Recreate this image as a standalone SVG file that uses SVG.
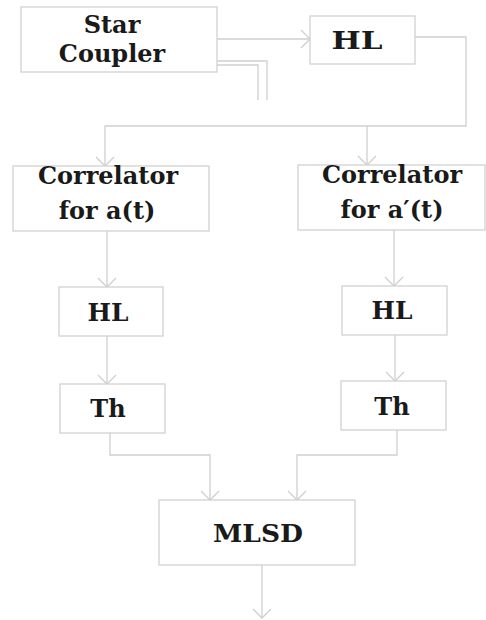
<svg xmlns="http://www.w3.org/2000/svg" width="486" height="620" viewBox="0 0 486 620">
<style>
.box{fill:#fff;stroke:#d2d2d2;stroke-width:1.3}
.t{font-family:"DejaVu Serif","Liberation Serif",serif;font-weight:bold;font-size:24px;fill:#1a1a1a;text-anchor:middle}
.c{fill:none;stroke:#cfcfcf;stroke-width:1.3}
</style>
<defs>
<marker id="a" markerUnits="userSpaceOnUse" markerWidth="20" markerHeight="20" refX="10" refY="9" orient="auto" overflow="visible">
<path d="M1,0 L10,9 L1,18" fill="none" stroke="#cfcfcf" stroke-width="1.3"/>
</marker>
</defs>
<rect width="486" height="620" fill="#fff"/>
<g id="connectors">
<path class="c" d="M217,39 H310" marker-end="url(#a)"/>
<path class="c" d="M217,61 H267 V100"/>
<path class="c" d="M217,65 H258 V100"/>
<path class="c" d="M415,37 H466 V126 H105 V166" marker-end="url(#a)"/>
<path class="c" d="M367,126 V165" marker-end="url(#a)"/>
<path class="c" d="M107,231 V287" marker-end="url(#a)"/>
<path class="c" d="M394,230 V286" marker-end="url(#a)"/>
<path class="c" d="M107,336 V384" marker-end="url(#a)"/>
<path class="c" d="M395,335 V381" marker-end="url(#a)"/>
<path class="c" d="M110,433 V455 H210 V500" marker-end="url(#a)"/>
<path class="c" d="M397,430 V455 H297 V500" marker-end="url(#a)"/>
<path class="c" d="M262,565 V618" marker-end="url(#a)"/>
</g>
<g id="star-coupler">
<rect class="box" x="21" y="7" width="196" height="65"/>
<text class="t" x="112" y="33">Star</text>
<text class="t" x="112" y="62">Coupler</text>
</g>
<g id="hl-top">
<rect class="box" x="310" y="16" width="105" height="48"/>
<text class="t" x="357" y="49" font-size="26" textLength="51" lengthAdjust="spacingAndGlyphs">HL</text>
</g>
<g id="correlator-a">
<rect class="box" x="13" y="166" width="196" height="65"/>
<text class="t" x="108" y="184">Correlator</text>
<text class="t" x="107" y="219">for a(t)</text>
</g>
<g id="correlator-a-prime">
<rect class="box" x="298" y="165" width="187" height="65"/>
<text class="t" x="392" y="183">Correlator</text>
<text class="t" x="392" y="218">for a′(t)</text>
</g>
<g id="hl-left">
<rect class="box" x="59" y="287" width="104" height="49"/>
<text class="t" x="108" y="321" textLength="41" lengthAdjust="spacingAndGlyphs">HL</text>
</g>
<g id="hl-right">
<rect class="box" x="342" y="286" width="105" height="49"/>
<text class="t" x="392" y="319" textLength="41" lengthAdjust="spacingAndGlyphs">HL</text>
</g>
<g id="th-left">
<rect class="box" x="60" y="384" width="105" height="49"/>
<text class="t" x="108" y="417">Th</text>
</g>
<g id="th-right">
<rect class="box" x="341" y="381" width="105" height="49"/>
<text class="t" x="392" y="415">Th</text>
</g>
<g id="mlsd">
<rect class="box" x="159" y="500" width="196" height="65"/>
<text class="t" x="258" y="542" font-size="26" textLength="90" lengthAdjust="spacingAndGlyphs">MLSD</text>
</g>
</svg>
